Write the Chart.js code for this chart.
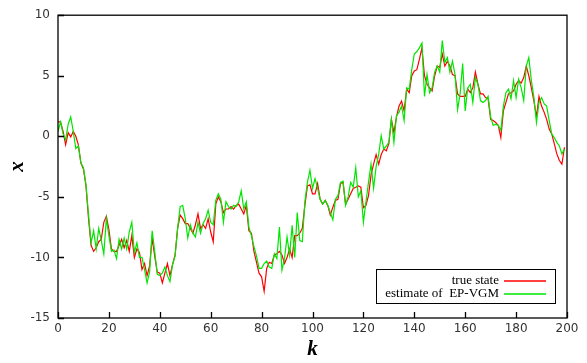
<!DOCTYPE html>
<html><head><meta charset="utf-8">
<script src="https://cdn.jsdelivr.net/npm/chart.js@4/dist/chart.umd.min.js"></script>
<style>html,body{margin:0;padding:0;background:#fff}canvas{display:block}</style>
</head><body>
<canvas id="c" width="587" height="363"></canvas>
<script>
const trueState = [
 1.2, 1.2, 0.4, -0.7, 0.3, -0.05, 0.4, 0.0, -0.7, -2.2,
 -2.7, -4.1, -6.8, -9.0, -9.5, -9.2, -8.7, -8.5, -7.1, -6.6,
 -7.7, -9.3, -9.5, -9.5, -9.0, -8.5, -9.2, -8.6, -9.5, -8.2,
 -10.0, -9.3, -9.6, -11.0, -10.5, -11.5, -10.7, -8.4, -9.9, -11.2,
 -11.3, -12.1, -11.3, -10.5, -11.5, -10.6, -9.8, -7.6, -6.5, -6.8,
 -7.2, -7.2, -7.6, -8.0, -7.3, -6.4, -7.6, -7.3, -7.6, -6.8,
 -7.9, -8.7, -5.6, -5.0, -5.4, -6.3, -6.0, -6.0, -5.8, -6.0,
 -5.7, -5.6, -6.0, -6.4, -5.7, -7.8, -8.0, -9.5, -10.4, -11.3,
 -11.6, -12.8, -10.9, -10.4, -10.5, -9.8, -9.7, -9.5, -9.8, -10.5,
 -10.0, -9.3, -10.0, -8.2, -8.2, -8.0, -7.6, -5.7, -4.1, -4.0,
 -4.75, -4.75, -3.9, -5.2, -5.6, -5.3, -5.7, -6.5, -5.85, -5.3,
 -5.2, -3.9, -3.8, -5.6, -5.2, -4.75, -4.3, -4.2, -4.1, -4.2,
 -5.9, -5.7, -4.9, -3.2, -2.3, -1.5, -2.3, -1.5, -1.05, -1.2,
 -0.6, 1.4, 0.3, 1.6, 2.5, 2.9, 2.1, 3.9, 3.6, 5.0,
 5.4, 5.5, 6.35, 7.3, 5.0, 4.3, 4.0, 3.75, 5.0, 5.8,
 5.7, 6.8, 5.8, 6.2, 5.8, 5.1, 5.0, 3.5, 3.3, 3.3,
 3.3, 3.9, 3.6, 4.0, 5.3, 4.3, 3.5, 3.5, 3.2, 3.1,
 1.4, 1.3, 1.15, 0.9, -0.1, 2.1, 2.8, 3.5, 3.6, 3.75,
 4.3, 4.6, 4.4, 4.85, 5.8, 5.0, 4.0, 2.9, 1.6, 3.3,
 2.5, 2.0, 1.4, 0.6, 0.2, -0.6, -1.45, -2.0, -2.3, -0.9
];
const estimateEPVGM = [
 0.4, 1.2, 0.2, -0.3, 1.0, 1.6, 0.4, -1.0, -0.8, -2.2,
 -2.6, -4.0, -6.5, -8.8, -7.8, -9.3, -7.6, -8.6, -9.7, -6.8,
 -8.2, -9.5, -9.4, -10.1, -8.5, -9.3, -8.4, -9.3, -7.9, -7.1,
 -9.6, -8.8, -10.0, -10.0, -11.0, -12.1, -11.2, -7.8, -9.5, -11.4,
 -11.5, -11.3, -10.8, -11.5, -12.0, -10.6, -9.9, -7.6, -5.8, -5.7,
 -6.8, -8.4, -7.3, -8.0, -8.3, -7.1, -8.0, -7.2, -6.8, -6.1,
 -7.1, -7.3, -5.3, -4.75, -5.2, -7.1, -5.4, -5.8, -6.0, -5.7,
 -5.8, -5.4, -4.5, -6.0, -5.4, -7.5, -8.2, -9.1, -9.9, -10.9,
 -10.9, -10.5, -10.3, -10.8, -10.9, -9.7, -10.1, -7.5, -11.05, -10.1,
 -8.3, -9.8, -7.35, -10.0, -6.3, -8.6, -8.7, -5.4, -3.8, -2.8,
 -4.3, -3.5, -4.3, -5.2, -5.6, -5.3, -5.7, -6.3, -6.9, -5.2,
 -4.9, -3.8, -3.7, -5.7, -5.0, -3.8, -4.2, -2.6, -5.0, -4.5,
 -7.1, -5.4, -3.8, -2.3, -4.3, -2.5, -1.5, 0.05, -1.05, -0.8,
 -0.5, 1.4, -0.5, 1.7, 2.0, 2.5, 1.3, 4.0, 3.9, 5.5,
 6.8, 7.0, 7.3, 7.7, 3.3, 5.1, 3.6, 4.0, 5.3, 5.8,
 5.3, 7.9, 6.1, 6.5, 5.3, 6.2, 5.1, 2.2, 3.5, 6.0,
 2.1, 4.0, 4.3, 2.8, 4.85, 4.3, 2.95, 2.8, 2.95, 3.3,
 1.6, 0.9, 1.0, 0.9, 0.5, 2.5, 3.6, 3.9, 3.1, 4.6,
 3.2, 4.7, 4.0, 2.95, 5.8, 6.5, 4.6, 3.2, 1.15, 2.8,
 3.2, 2.7, 2.5, 1.3, 0.2, -0.1, -0.5, -0.8, -1.45, -1.05
];
const seriesLabels = ['true state', 'estimate of  EP-VGM'];
const seriesColors = ['#ff0000', '#00e600'];
const xTicks = [0, 20, 40, 60, 80, 100, 120, 140, 160, 180, 200];
const yTicks = [-15, -10, -5, 0, 5, 10];

const toPoints = arr => arr.map((v, i) => ({x: i, y: v}));

const framePlugin = {
  id: 'frame',
  afterDatasetsDraw(chart) {
    const {ctx, chartArea: a, scales} = chart;
    ctx.save();
    ctx.strokeStyle = '#000';
    ctx.lineWidth = 1.3;
    // inner ticks
    ctx.beginPath();
    yTicks.forEach(t => {
      const y = Math.round(scales.y.getPixelForValue(t)) + 0.5;
      ctx.moveTo(a.left, y); ctx.lineTo(a.left + 6, y);
    });
    xTicks.forEach(t => {
      const x = Math.round(scales.x.getPixelForValue(t)) + 0.5;
      ctx.moveTo(x, a.bottom); ctx.lineTo(x, a.bottom - 6);
    });
    ctx.stroke();
    ctx.strokeRect(a.left, a.top, a.right - a.left, a.bottom - a.top);
    // legend
    const bx = a.right - 191, by = a.bottom - 49, bw = 179, bh = 34;
    ctx.fillStyle = '#fff';
    ctx.fillRect(bx, by, bw, bh);
    ctx.lineWidth = 1;
    ctx.strokeRect(bx + 0.5, by + 0.5, bw, bh);
    ctx.font = '13px "Liberation Serif", "Times New Roman", serif';
    ctx.textAlign = 'right';
    ctx.textBaseline = 'middle';
    seriesLabels.forEach((lab, i) => {
      const cy = by + 12 + i * 13;
      ctx.fillStyle = '#000';
      ctx.fillText(lab, bx + 123, cy);
      ctx.strokeStyle = seriesColors[i];
      ctx.lineWidth = 1.3;
      ctx.beginPath();
      ctx.moveTo(bx + 128, cy); ctx.lineTo(bx + 170, cy);
      ctx.stroke();
    });
    ctx.restore();
  }
};

new Chart(document.getElementById('c'), {
  type: 'line',
  data: {
    datasets: [
      {label: seriesLabels[0], data: toPoints(trueState), borderColor: seriesColors[0], borderWidth: 1.2, pointRadius: 0, tension: 0, order: 1},
      {label: seriesLabels[1], data: toPoints(estimateEPVGM), borderColor: seriesColors[1], borderWidth: 1.2, pointRadius: 0, tension: 0, order: 0}
    ]
  },
  options: {
    responsive: false,
    animation: false,
    layout: {padding: {top: 14, right: 20, left: 0, bottom: 0}},
    plugins: {legend: {display: false}, tooltip: {enabled: false}},
    scales: {
      x: {
        type: 'linear', min: 0, max: 200,
        afterBuildTicks: s => { s.ticks = xTicks.map(v => ({value: v})); },
        afterFit: s => { s.height = 45; },
        grid: {display: false, drawTicks: false},
        border: {display: false},
        ticks: {padding: 4, color: '#333', font: {family: '"DejaVu Sans", sans-serif', size: 12}, maxRotation: 0},
        title: {display: true, text: 'k', color: '#000', padding: {top: 0, bottom: 1},
                font: {family: '"Liberation Serif", serif', size: 21, weight: 'bold', style: 'italic'}}
      },
      y: {
        type: 'linear', min: -15, max: 10,
        afterBuildTicks: s => { s.ticks = yTicks.map(v => ({value: v})); },
        afterFit: s => { s.width = 58; },
        grid: {display: false, drawTicks: false},
        border: {display: false},
        ticks: {padding: 8, color: '#333', font: {family: '"DejaVu Sans", sans-serif', size: 12}},
        title: {display: true, text: 'x', color: '#000', padding: {top: 5, bottom: 0},
                font: {family: '"Liberation Serif", serif', size: 21, weight: 'bold', style: 'italic'}}
      }
    }
  },
  plugins: [framePlugin]
});
</script>
</body></html>
